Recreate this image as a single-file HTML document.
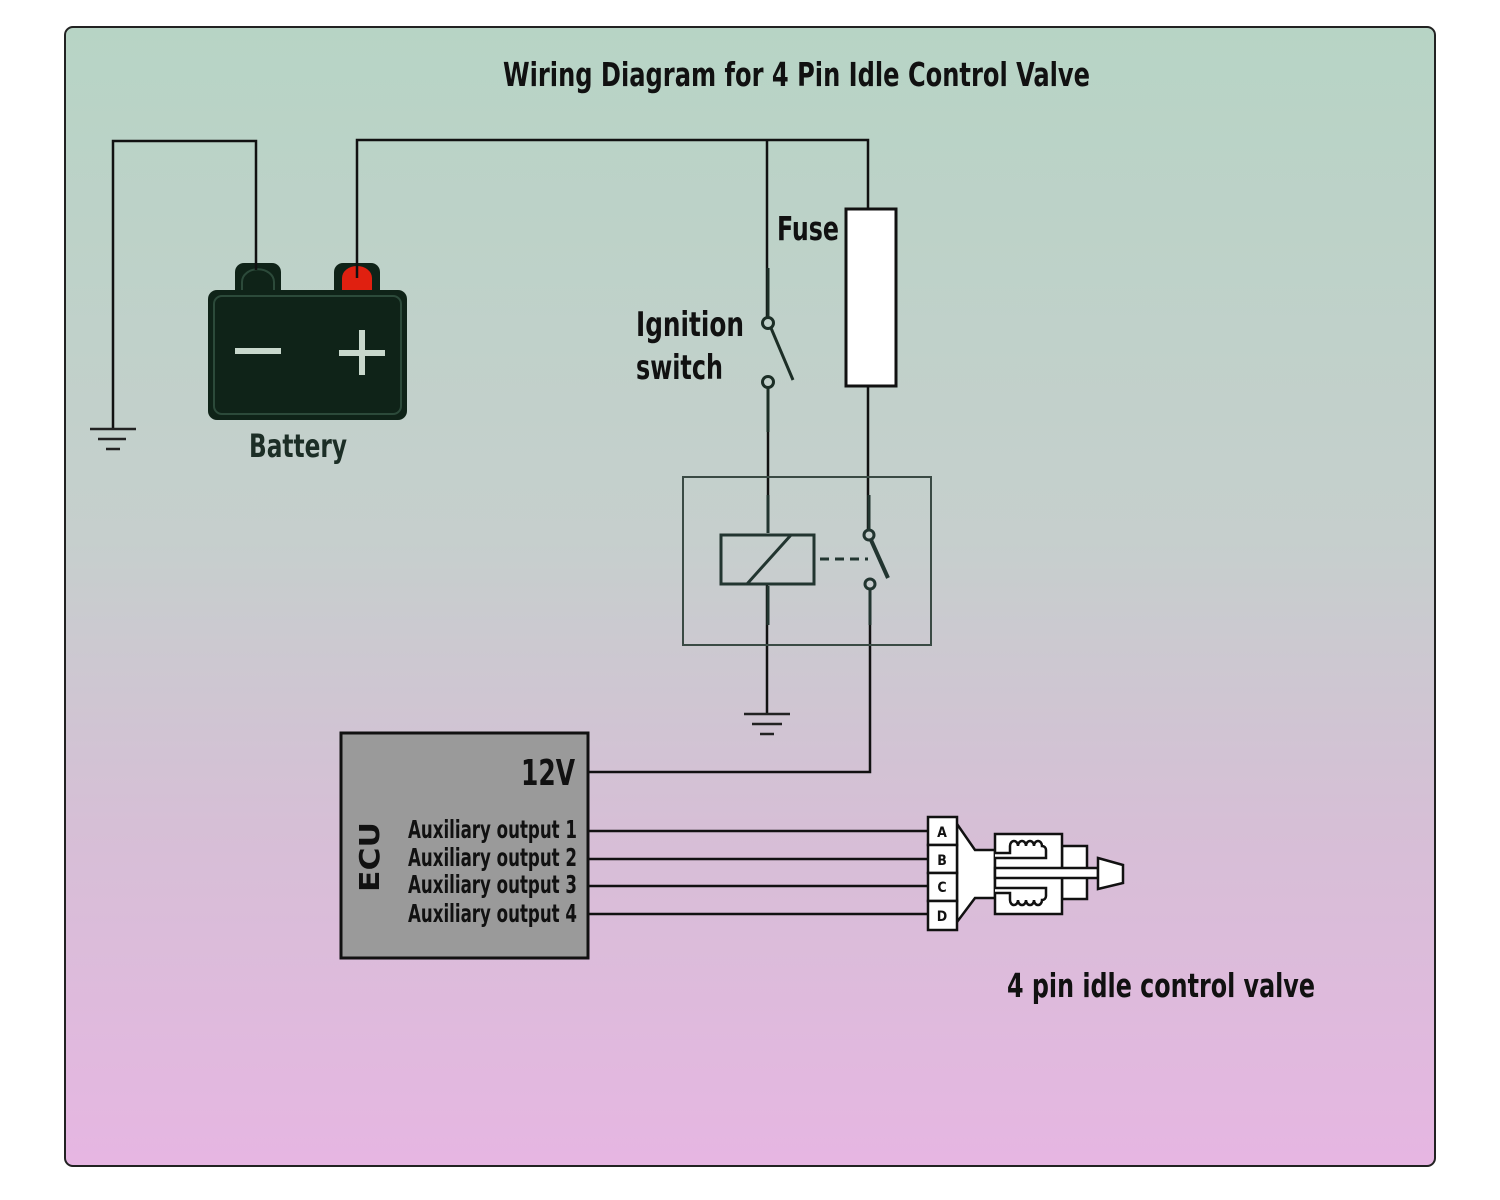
<!DOCTYPE html>
<html><head><meta charset="utf-8"><style>
html,body{margin:0;padding:0;background:#fff;}
svg{display:block;}
text{font-family:"Liberation Sans Narrow","DejaVu Sans Condensed","Liberation Sans",sans-serif;font-weight:bold;fill:#111;}
</style></head><body>
<svg width="1500" height="1200" viewBox="0 0 1500 1200" xmlns="http://www.w3.org/2000/svg">
<defs><linearGradient id="bg" x1="0" y1="0" x2="0" y2="1">
<stop offset="0" stop-color="#b7d4c5"/><stop offset="0.45" stop-color="#c6cfcd"/><stop offset="0.7" stop-color="#d6bfd6"/><stop offset="1" stop-color="#e6b6e2"/></linearGradient></defs>
<rect x="65" y="27" width="1370" height="1139" rx="8" fill="url(#bg)" stroke="#222" stroke-width="2"/>
<text x="503" y="86" font-size="33" textLength="587" lengthAdjust="spacingAndGlyphs">Wiring Diagram for 4 Pin Idle Control Valve</text>

<g fill="none" stroke="#111" stroke-width="2.5">
<polyline points="113,428 113,141 256,141 256,268"/>
<polyline points="357,268 357,140 868,140 868,209"/>
<line x1="767" y1="140" x2="767" y2="318"/>
<line x1="768" y1="386" x2="768" y2="533"/>
<line x1="868" y1="386" x2="868" y2="530"/>
<line x1="767" y1="584" x2="767" y2="713"/>
<polyline points="870,589 870,772 588,772"/>
<line x1="588" y1="831" x2="928" y2="831"/>
<line x1="588" y1="859" x2="928" y2="859"/>
<line x1="588" y1="886" x2="928" y2="886"/>
<line x1="588" y1="914" x2="928" y2="914"/>
</g>
<g stroke="#222" stroke-width="2.5">
<line x1="90" y1="429" x2="136" y2="429"/><line x1="98" y1="439" x2="126" y2="439"/><line x1="106" y1="449" x2="120" y2="449"/>
<line x1="744" y1="714" x2="790" y2="714"/><line x1="752" y1="724" x2="782" y2="724"/><line x1="760" y1="734" x2="774" y2="734"/>
</g>
<!-- battery -->
<rect x="235" y="263" width="46" height="36" rx="9" fill="#0f2318"/>
<path d="M242,292 v-10 a15,12 0 0 1 32,0 v10" fill="none" stroke="#2c4a3a" stroke-width="2"/>
<rect x="334" y="263" width="46" height="36" rx="9" fill="#0f2318"/>
<path d="M342,292 v-14 a15,12 0 0 1 30,0 v14 z" fill="#e02010"/>
<rect x="208" y="290" width="199" height="130" rx="9" fill="#0f2318"/>
<rect x="214" y="296" width="187" height="118" rx="8" fill="none" stroke="#2c4a3a" stroke-width="2"/>
<rect x="235" y="348" width="46" height="6" fill="#c8d8cc"/>
<rect x="339" y="350" width="46" height="6" fill="#c8d8cc"/>
<rect x="359" y="330" width="6" height="45" fill="#c8d8cc"/>
<line x1="256" y1="263" x2="256" y2="270" stroke="#111" stroke-width="2.5"/>
<line x1="357" y1="263" x2="357" y2="278" stroke="#111" stroke-width="2.5"/>
<text x="298" y="457" font-size="32" text-anchor="middle" style="fill:#1c2e26" textLength="98" lengthAdjust="spacingAndGlyphs">Battery</text>
<g stroke="#1c2e26" stroke-width="3" fill="none">
<line x1="768" y1="268" x2="768" y2="318"/>
<circle cx="768" cy="323" r="5.5"/>
<line x1="771" y1="328" x2="793" y2="380"/>
<circle cx="768" cy="382" r="5.5"/>
<line x1="768" y1="388" x2="768" y2="432"/>
</g>
<text x="636" y="336" font-size="34" textLength="108" lengthAdjust="spacingAndGlyphs">Ignition</text>
<text x="636" y="379" font-size="34" textLength="87" lengthAdjust="spacingAndGlyphs">switch</text>
<rect x="846" y="209" width="50" height="177" fill="#fff" stroke="#111" stroke-width="3"/>
<text x="777" y="240" font-size="33" textLength="62" lengthAdjust="spacingAndGlyphs">Fuse</text>
<rect x="683" y="477" width="248" height="168" fill="none" stroke="#3a4a44" stroke-width="2"/>
<g stroke="#223530" stroke-width="3" fill="none">
<line x1="768" y1="495" x2="768" y2="533"/>
<rect x="721" y="535" width="93" height="49"/>
<line x1="747" y1="584" x2="791" y2="535"/>
<line x1="768" y1="586" x2="768" y2="625"/>
<line x1="820" y1="559" x2="868" y2="559" stroke-dasharray="9,6"/>
<line x1="869" y1="495" x2="869" y2="530"/>
<circle cx="869" cy="535" r="5"/>
<line x1="871" y1="540" x2="888" y2="578" stroke-width="4"/>
<circle cx="870" cy="584" r="5"/>
<line x1="870" y1="589" x2="870" y2="625"/>
</g>
<rect x="341" y="733" width="247" height="225" fill="#9a9a9a" stroke="#111" stroke-width="3"/>
<text x="575" y="785" font-size="36" text-anchor="end" textLength="54" lengthAdjust="spacingAndGlyphs">12V</text>
<text x="577" y="838" font-size="25" text-anchor="end" textLength="169" lengthAdjust="spacingAndGlyphs">Auxiliary output 1</text>
<text x="577" y="866" font-size="25" text-anchor="end" textLength="169" lengthAdjust="spacingAndGlyphs">Auxiliary output 2</text>
<text x="577" y="893" font-size="25" text-anchor="end" textLength="169" lengthAdjust="spacingAndGlyphs">Auxiliary output 3</text>
<text x="577" y="922" font-size="25" text-anchor="end" textLength="169" lengthAdjust="spacingAndGlyphs">Auxiliary output 4</text>
<text transform="translate(379,857) rotate(-90)" font-size="28" text-anchor="middle" style="font-family:'DejaVu Sans','Liberation Sans',sans-serif" textLength="70" lengthAdjust="spacingAndGlyphs">ECU</text>
<g stroke="#111" stroke-width="2.5" fill="#fff">
<polygon points="957,824 975,850 995,850 995,898 975,898 957,922"/>
<rect x="1062" y="846" width="25" height="53"/>
<rect x="995" y="834" width="67" height="80"/>
<rect x="995" y="868" width="103" height="10"/>
<polygon points="1098,858 1123,865 1123,883 1098,889"/>
<path d="M995,853 H1010 V846 a4,5 0 0 1 8,0 a4,5 0 0 1 8,0 a4,5 0 0 1 8,0 a4,5 0 0 1 8,0 a4,4 0 0 1 4,4 V858 H995"/>
<path d="M995,893 H1010 V900 a4,5 0 0 0 8,0 a4,5 0 0 0 8,0 a4,5 0 0 0 8,0 a4,5 0 0 0 8,0 a4,4 0 0 0 4,-4 V888 H995"/>
<rect x="928" y="817" width="29" height="28"/>
<rect x="928" y="845" width="29" height="28"/>
<rect x="928" y="873" width="29" height="28"/>
<rect x="928" y="901" width="29" height="29"/>
</g>
<g font-size="14" text-anchor="middle" style="font-family:'Liberation Sans',sans-serif">
<text x="942" y="837">A</text><text x="942" y="865">B</text><text x="942" y="892">C</text><text x="942" y="921">D</text>
</g>
<text x="1007" y="997" font-size="33" textLength="308" lengthAdjust="spacingAndGlyphs">4 pin idle control valve</text>
</svg>
</body></html>
